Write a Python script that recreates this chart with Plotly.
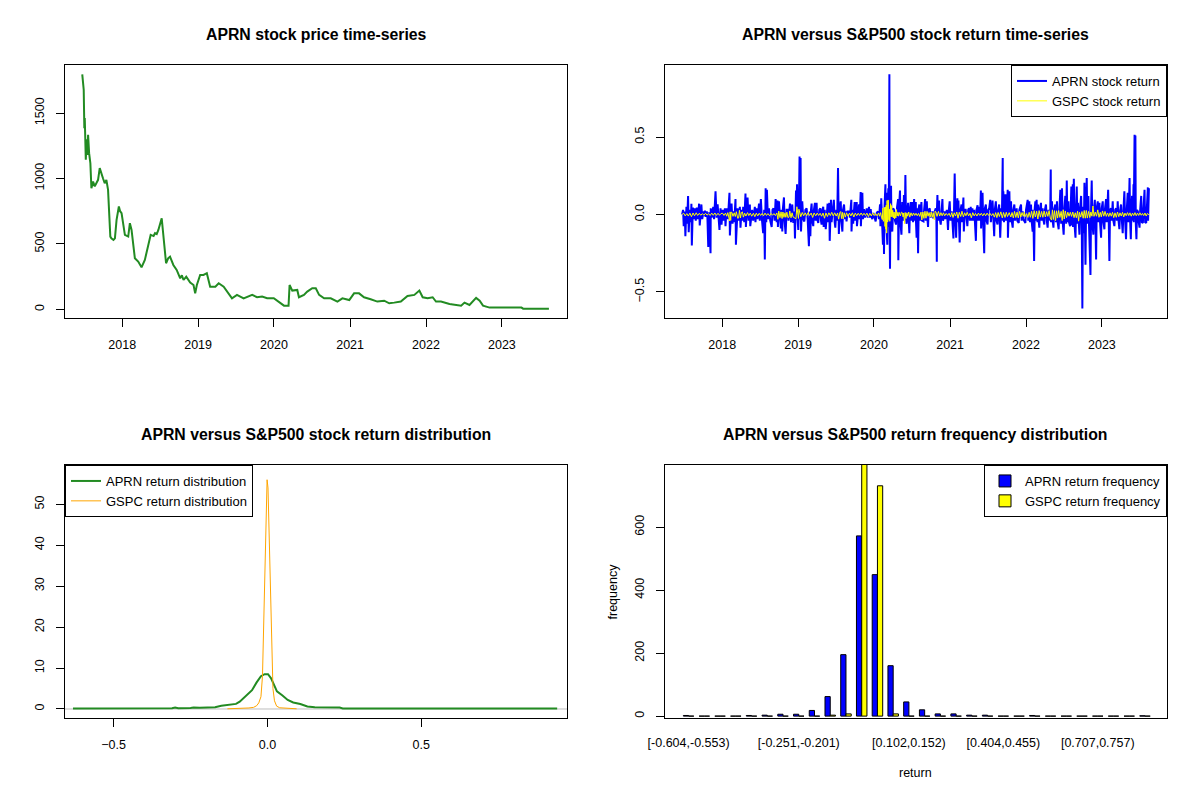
import pandas as pd
import plotly.graph_objects as go

# --- data

# APRN closing price (date, price)
price_obs = [
    ("2017-06-23", 1796), ("2017-06-27", 1700), ("2017-06-30", 1679), ("2017-07-03", 1385),
    ("2017-07-05", 1462), ("2017-07-10", 1143), ("2017-07-14", 1300), ("2017-07-18", 1180),
    ("2017-07-21", 1334), ("2017-07-26", 1194), ("2017-08-01", 1117), ("2017-08-06", 926),
    ("2017-08-14", 977), ("2017-08-22", 940), ("2017-08-30", 964), ("2017-09-07", 990),
    ("2017-09-15", 1079), ("2017-09-23", 1028), ("2017-10-01", 1000), ("2017-10-09", 964),
    ("2017-10-17", 990), ("2017-10-25", 913), ("2017-10-30", 684), ("2017-11-05", 556),
    ("2017-11-10", 543), ("2017-11-20", 530), ("2017-11-27", 543), ("2017-12-05", 684),
    ("2017-12-16", 786), ("2017-12-22", 750), ("2017-12-29", 735), ("2018-01-14", 569),
    ("2018-01-30", 556), ("2018-02-07", 658), ("2018-02-15", 607), ("2018-03-03", 390),
    ("2018-03-19", 365), ("2018-04-04", 321), ("2018-04-20", 378), ("2018-05-07", 505),
    ("2018-05-18", 569), ("2018-06-01", 560), ("2018-06-08", 582), ("2018-06-16", 575),
    ("2018-06-24", 607), ("2018-07-10", 696), ("2018-07-18", 556), ("2018-07-31", 352),
    ("2018-08-10", 390), ("2018-08-19", 403), ("2018-09-04", 339), ("2018-09-20", 301),
    ("2018-10-07", 237), ("2018-10-15", 260), ("2018-10-23", 224), ("2018-11-05", 250),
    ("2018-11-24", 204), ("2018-12-10", 186), ("2018-12-18", 122), ("2018-12-26", 186),
    ("2019-01-11", 263), ("2019-01-27", 263), ("2019-02-12", 276), ("2019-02-28", 173),
    ("2019-03-25", 173), ("2019-04-10", 199), ("2019-05-04", 173), ("2019-05-20", 135),
    ("2019-06-13", 84), ("2019-07-07", 110), ("2019-08-08", 84), ("2019-09-18", 110),
    ("2019-10-12", 92), ("2019-11-05", 97), ("2019-11-29", 84), ("2019-12-31", 84),
    ("2020-01-24", 54), ("2020-02-18", 28), ("2020-03-11", 28), ("2020-03-16", 186),
    ("2020-03-29", 143), ("2020-04-22", 148), ("2020-04-30", 92), ("2020-05-24", 110),
    ("2020-06-09", 135), ("2020-07-03", 161), ("2020-07-20", 161), ("2020-08-05", 110),
    ("2020-08-29", 84), ("2020-09-30", 84), ("2020-11-01", 59), ("2020-11-25", 84),
    ("2020-12-28", 71), ("2021-01-20", 122), ("2021-02-13", 122), ("2021-03-09", 92),
    ("2021-04-10", 77), ("2021-05-12", 59), ("2021-06-14", 66), ("2021-07-08", 46),
    ("2021-08-01", 51), ("2021-09-02", 59), ("2021-10-04", 102), ("2021-11-06", 110),
    ("2021-11-30", 143), ("2021-12-16", 92), ("2022-01-09", 84), ("2022-02-02", 92),
    ("2022-02-18", 59), ("2022-03-14", 59), ("2022-04-24", 41), ("2022-06-03", 33),
    ("2022-06-19", 28), ("2022-07-05", 51), ("2022-07-29", 33), ("2022-08-30", 87),
    ("2022-09-16", 66), ("2022-10-02", 28), ("2022-11-03", 13), ("2023-04-05", 13),
    ("2023-04-13", 5), ("2023-08-15", 5),
]

# daily returns as (calendar days from 2018-01-01, return)
aprn_obs = [
    (-193, 0.00), (-188, 0.03), (-185, -0.075), (-180, 0.02), (-177, -0.14), (-172, 0.05), (-169, -0.06),
    (-164, 0.12), (-161, -0.115), (-156, 0.03), (-151, -0.05), (-148, 0.07), (-146, -0.20), (-141, 0.045),
    (-136, -0.03), (-132, 0.04), (-127, -0.04), (-122, 0.045), (-117, -0.03), (-111, 0.07), (-108, -0.07),
    (-103, 0.02), (-100, 0.065), (-96, -0.03), (-90, 0.02), (-87, -0.01), (-83, 0.025), (-79, -0.015),
    (-74, 0.02), (-71, -0.02), (-67, -0.21), (-63, 0.015), (-56, -0.25), (-55, 0.04), (-50, -0.02),
    (-43, 0.05), (-39, -0.03), (-32, 0.15), (-27, -0.02), (-22, 0.065), (-18, -0.03), (-13, -0.10),
    (-8, 0.04), (-3, -0.065), (2, 0.03), (6, -0.04), (13, 0.04), (16, -0.075), (21, 0.04), (26, -0.03),
    (30, 0.03), (35, 0.14), (37, -0.135), (42, 0.02), (45, 0.07), (50, -0.06), (53, 0.02), (58, -0.05),
    (64, 0.10), (66, -0.195), (71, 0.03), (74, 0.04), (79, -0.04), (85, 0.05), (88, -0.085), (93, 0.03),
    (98, -0.04), (101, 0.05), (106, -0.05), (112, 0.135), (114, -0.08), (119, 0.03), (122, 0.11),
    (127, -0.04), (133, 0.065), (135, -0.075), (140, 0.02), (144, 0.03), (149, -0.04), (157, 0.05),
    (160, -0.05), (165, 0.04), (170, -0.03), (177, 0.07), (181, -0.04), (186, 0.10), (191, -0.03),
    (197, -0.12), (202, 0.03), (205, -0.29), (209, 0.17), (212, -0.05), (215, 0.16), (220, -0.03),
    (225, 0.04), (231, -0.04), (238, -0.08), (242, 0.03), (247, 0.04), (252, -0.04), (257, 0.10),
    (262, -0.05), (266, 0.09), (268, -0.08), (273, 0.085), (278, -0.03), (282, -0.09), (286, 0.03),
    (289, -0.11), (292, 0.04), (297, 0.11), (300, -0.04), (305, -0.125), (310, 0.03), (315, 0.03),
    (319, -0.04), (326, 0.07), (331, -0.05), (337, 0.065), (342, -0.055), (347, 0.02), (350, -0.155),
    (355, 0.155), (356, -0.03), (360, 0.195), (363, -0.04), (366, -0.10), (369, 0.05), (372, 0.375),
    (374, -0.03), (377, 0.365), (379, -0.11), (385, 0.085), (390, -0.03), (395, -0.045), (400, 0.03),
    (406, 0.04), (411, -0.03), (417, -0.205), (421, 0.02), (424, -0.14), (427, 0.03), (430, 0.07),
    (433, -0.04), (438, -0.075), (441, 0.03), (446, 0.075), (449, -0.04), (454, 0.075), (457, -0.03),
    (462, -0.055), (467, 0.03), (472, 0.04), (475, -0.04), (478, -0.065), (482, 0.03), (486, 0.05),
    (488, -0.08), (493, 0.03), (498, -0.095), (502, 0.02), (507, 0.07), (510, -0.05), (515, 0.075),
    (517, -0.17), (520, 0.03), (523, 0.095), (526, -0.05), (531, 0.02),
    (537, 0.095), (541, -0.05), (544, -0.085), (549, 0.03), (553, -0.04), (557, 0.30), (561, -0.125),
    (566, 0.04), (570, 0.085), (573, -0.04), (578, -0.11), (581, 0.03), (586, 0.065), (590, -0.03),
    (594, 0.02), (598, -0.045), (603, 0.02), (610, 0.02), (614, -0.02), (621, 0.095), (622, -0.11),
    (626, 0.03), (630, -0.06), (634, 0.03), (637, 0.08), (640, -0.04), (647, 0.08), (648, -0.075),
    (653, 0.03), (658, 0.065), (661, -0.03), (666, 0.145), (667, -0.075), (674, 0.14), (677, -0.03),
    (682, 0.035), (687, -0.02), (695, 0.04), (700, -0.02), (706, 0.05), (711, -0.02), (714, 0.035),
    (719, -0.02), (722, -0.03), (727, 0.01), (733, -0.03), (738, -0.045), (743, 0.01), (749, 0.02),
    (754, -0.03), (759, 0.065), (761, -0.075), (765, 0.105), (769, -0.05), (773, -0.195), (777, 0.04),
    (778, -0.255), (781, 0.06), (785, 0.195), (786, -0.06), (789, 0.14), (791, -0.10), (794, -0.195),
    (796, 0.06), (799, 0.17), (801, -0.08), (804, 0.905), (805, -0.05), (807, -0.35), (809, 0.05),
    (812, 0.185), (814, -0.08), (818, -0.11), (822, 0.04), (826, 0.03), (831, -0.04), (836, -0.065),
    (841, 0.05), (846, 0.10), (847, -0.295), (850, 0.03), (855, 0.155), (857, -0.05), (862, -0.13),
    (865, 0.04), (866, 0.08), (870, -0.04), (874, 0.125), (878, -0.03), (881, 0.255), (884, -0.03),
    (887, -0.06), (891, 0.03), (894, 0.075), (897, -0.04), (900, -0.12), (903, 0.03), (907, 0.08),
    (910, -0.04), (915, 0.08), (918, -0.05), (923, 0.10), (926, -0.04), (931, 0.08), (932, -0.05),
    (935, -0.15), (939, 0.04), (942, -0.25), (945, 0.04), (948, 0.065), (952, -0.04), (958, 0.08),
    (961, -0.04), (968, -0.045), (971, 0.03), (976, 0.10), (979, -0.04), (984, 0.085), (987, -0.03),
    (990, -0.08), (993, 0.03), (998, 0.04), (1003, -0.02), (1011, 0.02), (1014, -0.02), (1019, -0.02),
    (1022, 0.02), (1027, 0.04), (1030, -0.03), (1032, -0.305), (1033, 0.04), (1035, 0.125), (1038, -0.04),
    (1043, 0.09), (1046, -0.03), (1051, -0.065), (1054, 0.03), (1059, 0.10), (1062, -0.04), (1070, 0.02),
    (1073, -0.03), (1080, 0.03), (1083, -0.03), (1086, -0.10), (1090, 0.03), (1094, 0.085), (1098, -0.04),
    (1104, 0.02), (1107, -0.04), (1112, -0.155), (1115, 0.04), (1118, 0.265), (1122, -0.04), (1125, -0.15),
    (1128, 0.04), (1131, 0.105), (1134, -0.05), (1136, 0.09), (1139, -0.06), (1142, -0.18), (1146, 0.03),
    (1151, 0.065), (1154, -0.05), (1160, 0.11), (1162, -0.11), (1167, 0.03), (1171, 0.03), (1175, -0.04),
    (1179, -0.075), (1183, 0.03), (1187, 0.04), (1191, -0.04), (1195, 0.05), (1199, -0.04), (1203, 0.04),
    (1207, -0.04), (1212, 0.03), (1215, -0.04), (1220, -0.17), (1223, 0.03), (1228, 0.06), (1231, -0.04),
    (1237, 0.05), (1240, -0.04), (1244, 0.155), (1245, -0.09), (1252, 0.14), (1255, -0.05), (1260, -0.25),
    (1263, 0.04), (1268, 0.065), (1271, -0.04), (1276, -0.065), (1279, 0.03), (1284, 0.04), (1289, 0.095),
    (1292, -0.05), (1300, 0.09), (1303, -0.04), (1308, -0.14), (1311, 0.03), (1316, 0.085), (1319, -0.04),
    (1324, -0.065), (1327, 0.03), (1332, 0.065),
    (1337, -0.15), (1342, 0.04), (1345, -0.03), (1349, 0.365), (1350, -0.04), (1352, 0.15), (1355, -0.05),
    (1362, 0.13), (1365, -0.04), (1373, 0.16), (1374, -0.15), (1378, 0.03), (1381, 0.15), (1384, -0.05),
    (1389, 0.085), (1392, -0.04), (1397, -0.085), (1400, 0.03), (1405, 0.065), (1408, -0.04), (1416, 0.04),
    (1419, -0.04), (1426, -0.055), (1429, 0.03), (1437, 0.065), (1440, -0.04), (1445, 0.02), (1448, -0.03),
    (1458, -0.055), (1461, 0.03), (1469, 0.095), (1472, -0.04), (1477, 0.085), (1480, -0.05), (1485, 0.065),
    (1488, -0.04), (1493, -0.11), (1496, 0.03), (1500, -0.30), (1503, 0.04), (1506, 0.085), (1509, -0.04),
    (1512, 0.095), (1516, -0.05), (1519, 0.065), (1522, -0.04), (1525, -0.085), (1528, 0.03), (1533, 0.075),
    (1536, -0.04), (1541, 0.04), (1544, -0.03), (1549, -0.065), (1552, 0.03), (1557, 0.065), (1561, -0.04),
    (1565, -0.085), (1569, 0.03), (1573, 0.02), (1577, -0.04), (1580, 0.29), (1581, -0.05), (1586, 0.085),
    (1589, -0.04), (1593, -0.085), (1596, 0.03), (1602, 0.065), (1605, -0.05), (1610, 0.085), (1613, -0.05),
    (1618, -0.095), (1622, 0.04), (1626, 0.16), (1630, -0.06), (1634, 0.17), (1638, -0.06), (1642, -0.13),
    (1646, 0.04), (1650, 0.12), (1654, -0.06), (1657, 0.22), (1660, -0.05), (1665, 0.085), (1668, -0.05),
    (1673, -0.075), (1676, 0.04), (1679, 0.18), (1681, -0.07), (1686, 0.195), (1687, -0.08), (1691, 0.23),
    (1694, -0.06), (1699, -0.15), (1702, 0.05), (1705, 0.18), (1708, -0.06), (1711, 0.075), (1715, -0.06),
    (1718, -0.13), (1721, 0.04), (1726, 0.12), (1729, -0.05), (1732, -0.607), (1735, 0.05), (1739, -0.12),
    (1742, 0.205), (1743, -0.06), (1747, -0.325), (1750, 0.05), (1753, 0.235), (1756, -0.06), (1761, 0.12),
    (1764, -0.07), (1771, -0.39), (1774, 0.05), (1777, 0.22), (1780, -0.06), (1785, -0.13), (1788, 0.04),
    (1792, 0.095), (1795, -0.06), (1798, -0.29), (1801, 0.04), (1806, 0.085), (1809, -0.05), (1814, 0.075),
    (1817, -0.05), (1822, -0.15), (1825, 0.04), (1830, 0.085), (1833, -0.05), (1838, -0.095), (1841, 0.04),
    (1846, 0.10), (1849, -0.05), (1856, 0.16), (1859, -0.05), (1862, -0.30), (1865, 0.03), (1870, 0.04),
    (1873, -0.04), (1878, 0.085), (1881, -0.04), (1886, -0.075), (1890, 0.03), (1894, 0.04), (1898, -0.04),
    (1902, 0.085), (1906, -0.04), (1910, -0.095), (1914, 0.03), (1918, 0.065), (1922, -0.04), (1926, -0.12),
    (1930, 0.04), (1934, 0.15), (1938, -0.05), (1942, -0.16), (1946, 0.04), (1950, 0.14), (1954, -0.05),
    (1959, 0.235), (1962, -0.05), (1965, -0.16), (1968, 0.04), (1971, 0.12), (1975, -0.04), (1978, 0.195),
    (1979, -0.05), (1983, 0.515), (1984, -0.03), (1987, 0.51), (1989, -0.06), (1992, -0.16), (1995, 0.03),
    (1999, 0.02), (2002, -0.04), (2007, -0.085), (2010, 0.03), (2015, 0.12), (2018, -0.05), (2023, -0.055),
    (2026, 0.04), (2031, 0.16), (2034, -0.05), (2039, -0.055), (2042, 0.04), (2047, 0.175), (2048, -0.04),
    (2052, 0.17),
]

gspc_obs = [
    (-193, 0.0), (-185, 0.008), (-178, -0.009), (-170, 0.006), (-163, -0.01), (-155, 0.009), (-148, -0.014),
    (-140, 0.01), (-133, -0.008), (-125, 0.011), (-118, -0.006), (-110, 0.008), (-103, -0.005), (-95, 0.006),
    (-88, -0.005), (-80, 0.008), (-73, -0.004), (-65, 0.005), (-58, -0.006), (-50, 0.009), (-43, -0.005),
    (-35, 0.01), (-28, -0.006), (-20, 0.008), (-13, -0.005), (-6, 0.006), (2, 0.008), (9, -0.006),
    (16, 0.009), (22, -0.011), (27, 0.012), (33, -0.022), (36, -0.042), (38, 0.017), (41, -0.038),
    (43, 0.015), (47, 0.013), (52, -0.012), (58, 0.011), (63, -0.013), (68, 0.018), (75, -0.025),
    (79, -0.022), (83, 0.027), (88, -0.022), (92, 0.012), (97, 0.017), (102, -0.017), (108, 0.009),
    (114, -0.01), (122, 0.012), (128, -0.007), (135, 0.009), (142, -0.011), (150, 0.008), (157, -0.014),
    (164, 0.009), (171, -0.009), (178, 0.008), (185, -0.006), (192, 0.007), (199, -0.008), (206, 0.009),
    (213, -0.006), (220, 0.006), (228, -0.008), (235, 0.007), (242, -0.005), (249, 0.006), (256, -0.007),
    (263, 0.01), (268, -0.031), (272, 0.022), (278, -0.02), (283, 0.017), (288, -0.026), (292, 0.016),
    (297, -0.018), (302, 0.011), (306, -0.018), (311, 0.015), (316, -0.02), (321, -0.017), (325, 0.023),
    (331, -0.021), (336, 0.011), (341, -0.016), (346, -0.02), (350, -0.021), (355, -0.027), (359, 0.05),
    (363, 0.009), (367, -0.025), (369, 0.034), (373, 0.01), (378, -0.014), (385, 0.013), (392, -0.008),
    (399, 0.011), (406, -0.009), (413, 0.012), (420, -0.006), (428, 0.009), (435, -0.019), (442, 0.01),
    (450, -0.008), (457, 0.009), (464, -0.006), (471, 0.008), (478, -0.011), (485, 0.009), (492, -0.024),
    (499, 0.01), (506, -0.013), (513, 0.011), (520, -0.007), (527, 0.014), (534, -0.009), (541, 0.011),
    (548, -0.01), (555, 0.01), (560, -0.03), (566, 0.013), (570, 0.019), (574, -0.026), (578, 0.014),
    (582, -0.029), (587, 0.011), (592, -0.017), (598, 0.011), (605, -0.012), (612, 0.009), (619, -0.009),
    (626, 0.011), (633, -0.016), (640, 0.009), (647, -0.008), (654, 0.008), (661, -0.006), (668, 0.01),
    (675, -0.006), (682, 0.008), (689, -0.006), (696, 0.009), (703, -0.014), (710, 0.008), (717, -0.009),
    (724, 0.01), (731, -0.007), (738, 0.007), (745, -0.009), (752, 0.01), (757, -0.011), (762, 0.012),
    (766, -0.017), (770, -0.033), (773, 0.042), (775, -0.044), (778, -0.034), (780, 0.046), (783, -0.077),
    (785, 0.049), (787, -0.095), (789, 0.06), (791, -0.12), (793, 0.09), (795, -0.049), (797, -0.043),
    (798, 0.094), (800, 0.062), (802, -0.034), (804, 0.034), (806, -0.044), (808, 0.023), (810, 0.07),
    (812, -0.015), (815, 0.058), (817, -0.015), (820, 0.027), (823, -0.022), (826, 0.016), (829, -0.028),
    (832, 0.014), (835, -0.022), (838, 0.032), (841, -0.01), (845, 0.014), (848, -0.011), (852, 0.013),
    (857, -0.009), (862, 0.015), (866, 0.012), (870, -0.015), (873, 0.01), (877, -0.059), (880, 0.013),
    (884, -0.026), (888, 0.011), (892, -0.011), (897, 0.016), (902, -0.017), (908, 0.011), (914, -0.009),
    (920, 0.01), (926, -0.006), (932, 0.008), (938, -0.008), (944, 0.007), (950, -0.012), (956, 0.015),
    (960, -0.035), (965, 0.016), (970, -0.025), (975, 0.021), (980, -0.024), (985, 0.02), (990, -0.011),
    (995, 0.013), (1000, -0.017), (1005, 0.016), (1010, -0.018), (1015, 0.012), (1020, -0.035), (1024, 0.022),
    (1028, 0.018), (1033, -0.012), (1040, 0.02), (1046, -0.01), (1052, 0.012), (1058, -0.008), (1064, 0.011),
    (1070, -0.008), (1077, 0.007), (1084, -0.006), (1091, 0.008), (1098, -0.014), (1104, 0.012), (1110, -0.019),
    (1116, 0.011), (1122, -0.01), (1128, 0.016), (1134, -0.024), (1140, 0.014), (1147, -0.013), (1153, 0.021),
    (1160, -0.015), (1166, 0.011), (1172, -0.008), (1178, 0.014), (1185, -0.009), (1192, 0.008), (1198, -0.021),
    (1205, 0.012), (1212, -0.009), (1218, 0.007), (1225, -0.01), (1232, 0.009), (1239, -0.006), (1246, 0.008),
    (1253, -0.009), (1260, 0.007), (1267, -0.008), (1274, 0.009), (1281, -0.006), (1288, 0.007), (1295, -0.008),
    (1302, 0.006), (1309, -0.017), (1315, 0.012), (1321, -0.02), (1327, 0.013), (1333, -0.013), (1340, 0.017),
    (1347, -0.022), (1353, 0.013), (1360, -0.019), (1366, 0.014), (1372, -0.013), (1380, 0.012), (1388, -0.016),
    (1394, 0.013), (1400, -0.022), (1406, 0.02), (1412, -0.019), (1418, 0.015), (1424, -0.022), (1430, 0.02),
    (1436, -0.016), (1442, 0.013), (1448, -0.012), (1453, 0.016), (1458, -0.013), (1464, 0.006), (1470, -0.019),
    (1476, 0.014), (1482, -0.018), (1488, 0.021), (1494, -0.025), (1500, 0.025), (1506, -0.016), (1512, 0.022),
    (1518, -0.029), (1524, 0.025), (1530, -0.017), (1536, 0.02), (1542, -0.018), (1548, 0.023), (1554, -0.016),
    (1560, 0.018), (1566, -0.012), (1572, 0.025), (1578, -0.024), (1584, -0.036), (1588, 0.03), (1593, -0.032),
    (1598, 0.025), (1603, -0.04), (1608, 0.024), (1613, -0.023), (1618, 0.026), (1624, -0.019), (1630, 0.02),
    (1635, -0.039), (1640, 0.031), (1645, -0.029), (1650, 0.023), (1656, -0.02), (1662, 0.015), (1668, -0.011),
    (1674, 0.014), (1680, -0.012), (1686, 0.016), (1692, -0.02), (1698, 0.011), (1703, -0.021), (1709, 0.021),
    (1714, -0.043), (1718, 0.014), (1724, -0.017), (1730, 0.019), (1736, -0.024), (1741, 0.026), (1746, -0.024),
    (1751, 0.026), (1756, -0.023), (1762, 0.02), (1768, -0.02), (1773, 0.016), (1778, -0.011), (1783, 0.055),
    (1788, -0.012), (1794, 0.016), (1800, -0.011), (1806, 0.03), (1812, -0.018), (1818, 0.014), (1823, -0.015),
    (1829, 0.023), (1835, -0.011), (1841, 0.02), (1847, -0.012), (1853, 0.01), (1859, -0.013), (1865, 0.011),
    (1871, -0.011), (1877, 0.014), (1883, -0.02), (1889, 0.011), (1895, -0.018), (1901, 0.016), (1907, -0.014),
    (1913, 0.011), (1919, -0.01), (1925, 0.014), (1931, -0.015), (1937, 0.009), (1943, -0.008), (1949, 0.012),
    (1955, -0.007), (1961, 0.011), (1967, -0.011), (1973, 0.009), (1979, -0.007), (1985, 0.012), (1991, -0.008),
    (1997, 0.009), (2003, -0.006), (2009, 0.011), (2015, -0.005), (2021, 0.007), (2027, -0.007), (2033, 0.01),
    (2039, -0.01), (2045, 0.007), (2052, -0.003),
]

# kernel density curves (return, density)
aprn_density = [
    (-0.632, 0.15), (-0.45, 0.15), (-0.31, 0.2), (-0.30, 0.35), (-0.29, 0.2), (-0.25, 0.25), (-0.24, 0.35),
    (-0.22, 0.3), (-0.20, 0.35), (-0.17, 0.45), (-0.15, 0.8), (-0.126, 1.1), (-0.102, 1.25), (-0.09, 1.8),
    (-0.068, 3.3), (-0.05, 4.6), (-0.035, 6.5), (-0.021, 8.0), (-0.009, 8.5), (0.002, 8.5), (0.012, 7.5),
    (0.02, 6.0), (0.031, 4.3), (0.049, 3.3), (0.066, 2.2), (0.084, 1.6), (0.107, 1.2), (0.13, 0.6),
    (0.154, 0.4), (0.235, 0.35), (0.245, 0.15), (0.942, 0.15),
]
gspc_density = [
    (-0.13, 0.05), (-0.10, 0.1), (-0.08, 0.15), (-0.06, 0.25), (-0.045, 0.4), (-0.035, 0.8), (-0.028, 1.5),
    (-0.021, 3.0), (-0.016, 8.0), (-0.012, 22), (-0.008, 38), (-0.004, 52), (-0.001, 56), (0.002, 54),
    (0.005, 44), (0.009, 28), (0.013, 14), (0.018, 5.0), (0.023, 2.0), (0.03, 0.7), (0.04, 0.3),
    (0.06, 0.2), (0.08, 0.15), (0.095, 0.05),
]

# return histogram
return_bins = [
    "[-0.604,-0.553)", "[-0.553,-0.503)", "[-0.503,-0.453)", "[-0.453,-0.402)", "[-0.402,-0.352)",
    "[-0.352,-0.302)", "[-0.302,-0.251)", "[-0.251,-0.201)", "[-0.201,-0.15)", "[-0.15,-0.0998)",
    "[-0.0998,-0.0494)", "[-0.0494,0.00103)", "[0.00103,0.0514)", "[0.0514,0.102)", "[0.102,0.152)",
    "[0.152,0.203)", "[0.203,0.253)", "[0.253,0.303)", "[0.303,0.354)", "[0.354,0.404)",
    "[0.404,0.455)", "[0.455,0.505)", "[0.505,0.556)", "[0.556,0.606)", "[0.606,0.657)",
    "[0.657,0.707)", "[0.707,0.757)", "[0.757,0.808)", "[0.808,0.858)", "[0.858,0.909]",
]
shown_bins = ["[-0.604,-0.553)", "[-0.251,-0.201)", "[0.102,0.152)", "[0.404,0.455)", "[0.707,0.757)"]
aprn_freq = [2, 0, 0, 0, 2, 3, 6, 6, 18, 62, 195, 572, 449, 160, 45, 20, 7, 7, 3, 3, 0, 0, 2, 0, 0, 0, 0, 0, 0, 1]
gspc_freq = [0, 0, 0, 0, 0, 0, 0, 0, 0, 3, 7, 820, 731, 7, 0, 0, 0, 0, 0, 0, 0, 0, 0, 0, 0, 0, 0, 0, 0, 0]

# --- prepare
price_dates = pd.to_datetime([d for d, _ in price_obs])
price_vals = [v for _, v in price_obs]

day0 = pd.Timestamp("2018-01-01")
aprn_dates = day0 + pd.to_timedelta([d for d, _ in aprn_obs], unit="D")
aprn_ret = [v for _, v in aprn_obs]
gspc_dates = day0 + pd.to_timedelta([d for d, _ in gspc_obs], unit="D")
gspc_ret = [v for _, v in gspc_obs]

FONT = "Liberation Sans, Arial, sans-serif"
GREEN = "#228B22"
W, H = 1200, 800
OFF = 8  # the page body adds an 8px margin
TICK_SIZE = 12.5


def px_x(x):
    return (x - OFF) / W


def px_y(y):
    return 1 - (y - OFF) / H


fig = go.Figure()

# panel 1 - price
fig.add_trace(go.Scatter(x=price_dates, y=price_vals, mode="lines", line=dict(color=GREEN, width=2),
                         xaxis="x", yaxis="y", showlegend=False, hoverinfo="skip"))

# panel 2 - returns
fig.add_trace(go.Scatter(x=aprn_dates, y=aprn_ret, mode="lines", line=dict(color="#0000FF", width=2),
                         name="APRN stock return", xaxis="x2", yaxis="y2", legend="legend"))
fig.add_trace(go.Scatter(x=gspc_dates, y=gspc_ret, mode="lines", line=dict(color="#FFFF00", width=1),
                         name="GSPC stock return", xaxis="x2", yaxis="y2", legend="legend"))

# panel 3 - density
fig.add_trace(go.Scatter(x=[p[0] for p in aprn_density], y=[p[1] for p in aprn_density], mode="lines",
                         line=dict(color=GREEN, width=2), name="APRN return distribution",
                         xaxis="x3", yaxis="y3", legend="legend2"))
fig.add_trace(go.Scatter(x=[p[0] for p in gspc_density], y=[p[1] for p in gspc_density], mode="lines",
                         line=dict(color="#FFA500", width=1), name="GSPC return distribution",
                         xaxis="x3", yaxis="y3", legend="legend2"))

# panel 4 - histogram
fig.add_trace(go.Bar(x=return_bins, y=aprn_freq, name="APRN return frequency",
                     marker=dict(color="#0000FF", line=dict(color="black", width=1)),
                     xaxis="x4", yaxis="y4", legend="legend3"))
fig.add_trace(go.Bar(x=return_bins, y=gspc_freq, name="GSPC return frequency",
                     marker=dict(color="#FFFF00", line=dict(color="black", width=1)),
                     xaxis="x4", yaxis="y4", legend="legend3"))

axis_style = dict(showline=True, mirror=True, linecolor="black", linewidth=1, ticks="outside",
                  ticklen=8, tickcolor="black", showgrid=False, zeroline=False, automargin=False,
                  tickfont=dict(size=TICK_SIZE, color="black"), ticklabelstandoff=7)

left_dom = [px_x(65), px_x(567)]
right_dom = [px_x(665), px_x(1167)]
top_dom = [px_y(318), px_y(65)]
bottom_dom = [px_y(718), px_y(465)]
date_range = ["2017-04-01", "2023-11-10"]

legend_style = dict(bgcolor="white", bordercolor="black", borderwidth=1,
                    font=dict(size=13, color="black", family=FONT), tracegroupgap=0,
                    itemwidth=30, yanchor="top")

fig.update_layout(
    width=W, height=H, autosize=False,
    margin=dict(l=0, r=0, t=0, b=0, pad=0),
    paper_bgcolor="white", plot_bgcolor="white",
    font=dict(family=FONT, color="black"),
    barmode="group", bargap=1 / 3, bargroupgap=0,
    xaxis=dict(axis_style, domain=left_dom, anchor="y", type="date", range=date_range,
               tick0="2018-01-01", dtick="M12", tickformat="%Y"),
    yaxis=dict(axis_style, domain=top_dom, anchor="x", range=[-66.6, 1868], dtick=500, tickangle=-90),
    xaxis2=dict(axis_style, domain=right_dom, anchor="y2", type="date", range=date_range,
                tick0="2018-01-01", dtick="M12", tickformat="%Y"),
    yaxis2=dict(axis_style, domain=top_dom, anchor="x2", range=[-0.668, 0.965],
                tickvals=[-0.5, 0, 0.5], tickformat=".1f", tickangle=-90),
    xaxis3=dict(axis_style, domain=left_dom, anchor="y3", range=[-0.658, 0.974],
                tickvals=[-0.5, 0, 0.5], tickformat=".1f"),
    yaxis3=dict(axis_style, domain=bottom_dom, anchor="x3", range=[-2.2, 59.6], dtick=10, tickangle=-90),
    xaxis4=dict(axis_style, domain=right_dom, anchor="y4", type="category", range=[-1.5, 30.4],
                ticks="", tickvals=shown_bins, ticklabelstandoff=13),
    yaxis4=dict(axis_style, domain=bottom_dom, anchor="x4", range=[-6, 797],
                tickvals=[0, 200, 400, 600], tickangle=-90),
    legend=dict(legend_style, x=right_dom[1], xanchor="right", y=top_dom[1]),
    legend2=dict(legend_style, x=left_dom[0], xanchor="left", y=bottom_dom[1]),
    legend3=dict(legend_style, x=right_dom[1], xanchor="right", y=bottom_dom[1]),
    showlegend=True,
)

# zero reference line of the density plot
fig.add_shape(type="line", xref="x3 domain", x0=0, x1=1, yref="y3", y0=0, y1=0,
              line=dict(color="#BEBEBE", width=1), layer="below")

titles = [
    ("APRN stock price time-series", sum(left_dom) / 2, px_y(35)),
    ("APRN versus S&P500 stock return time-series", sum(right_dom) / 2, px_y(35)),
    ("APRN versus S&P500 stock return distribution", sum(left_dom) / 2, px_y(435)),
    ("APRN versus S&P500 return frequency distribution", sum(right_dom) / 2, px_y(435)),
]
for text, x, y in titles:
    fig.add_annotation(text="<b>" + text + "</b>", x=x, y=y, xref="paper", yref="paper",
                       xanchor="center", yanchor="middle", showarrow=False,
                       font=dict(size=15.8, color="black", family=FONT))

fig.add_annotation(text="return", x=sum(right_dom) / 2, y=px_y(773), xref="paper", yref="paper",
                   xanchor="center", yanchor="middle", showarrow=False,
                   font=dict(size=TICK_SIZE, color="black", family=FONT))
fig.add_annotation(text="frequency", x=px_x(612), y=sum(bottom_dom) / 2, xref="paper", yref="paper",
                   xanchor="center", yanchor="middle", showarrow=False, textangle=-90,
                   font=dict(size=TICK_SIZE, color="black", family=FONT))

fig.write_html("out.html")
